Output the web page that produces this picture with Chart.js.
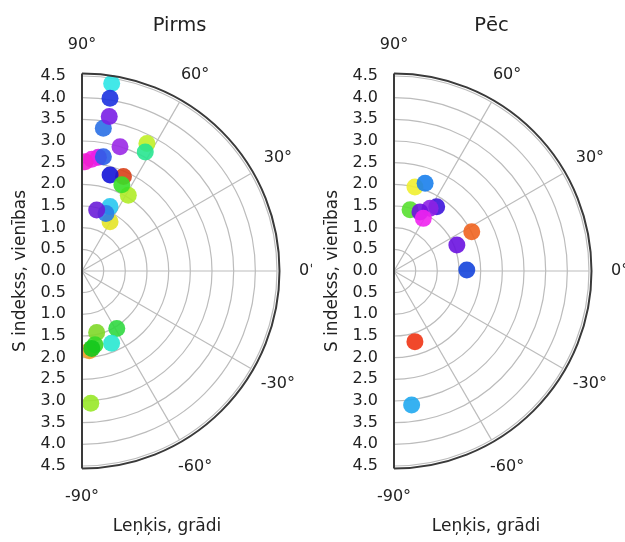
<!DOCTYPE html>
<html>
<head>
<meta charset="utf-8">
<script src="https://cdn.jsdelivr.net/npm/chart.js@4.4.1/dist/chart.umd.min.js"></script>
<style>
  body { margin: 0; background: #fff; }
  #wrap { position: relative; width: 625px; height: 542px; overflow: hidden; }
  canvas { position: absolute; top: 0; }
</style>
</head>
<body>
<div id="wrap">
  <canvas id="before" width="312" height="542" style="left:0"></canvas>
  <canvas id="after" width="313" height="542" style="left:312px"></canvas>
</div>
<script>
// values: angle in degrees, S index as radius
const beforeAngles = [81, 80.8, 81.5, 80, 73, 63, 62, 81.8, 85, 88.4, 79.4, 66.3, 73.7, 58.6, 65.2,
                      60.4, 66.5, 67.4, 76.5, -84.8, -58.8, -76.6, -67.7, -80, -82.8, -86.2];
const beforeRadii  = [4.38, 4.04, 3.33, 3.62, 3.0, 3.30, 3.11, 2.65, 2.59, 2.52, 2.68, 2.38, 2.31, 2.05, 2.19,
                      1.31, 1.62, 1.44, 1.45, 1.85, 1.55, 1.46, 1.80, 1.73, 1.80, 3.06];
const beforeColors = ['#2ee6e6', '#1c32e0', '#2a70e6', '#7a1ee6', '#9a28e6', '#c0f028', '#28e690',
                      '#d21ee8', '#ee1ee6', '#f020d0', '#2a5ee8', '#d84018', '#1414d8', '#b0ec28', '#38e028',
                      '#e4e428', '#28c8f0', '#2a80e8', '#6a1ed8', '#f0a028', '#30d840', '#80d828',
                      '#28e8d0', '#38d828', '#14c81e', '#98e828'];

const afterAngles = [76, 70.5, 75.3, 56.4, 60.1, 66.3, 60.9, 26.8, 22.5, 0.8, -73.5, -82.5];
const afterRadii  = [2.0, 2.15, 1.46, 1.78, 1.67, 1.49, 1.39, 2.01, 1.57, 1.68, 1.70, 3.12];
const afterColors = ['#f0f030', '#1a80ec', '#58e030', '#3c14dc', '#8e22e4', '#7012e0', '#f022f0',
                     '#f06420', '#6a12e0', '#1444dc', '#f03414', '#20a8f0'];

const angleTicks = [-90, -60, -30, 0, 30, 60, 90];
const radiusMax = 4.5;
const radiusStep = 0.5;

const fontFamily = '"DejaVu Sans", sans-serif';
const textColor = '#222222';

function toXY(angles, radii) {
  return angles.map((a, i) => {
    const t = a * Math.PI / 180;
    return {x: radii[i] * Math.cos(t), y: radii[i] * Math.sin(t)};
  });
}

const polarFrame = {
  id: 'polarFrame',
  beforeDatasetsDraw(chart) {
    const {ctx, scales: {x, y}} = chart;
    const cx = x.getPixelForValue(0);
    const cy = y.getPixelForValue(0);
    const R = x.getPixelForValue(radiusMax) - cx;
    ctx.save();
    ctx.strokeStyle = '#bcbcbc';
    ctx.lineWidth = 1.2;
    y.ticks.forEach(t => {
      if (t.value <= 0.001) return;
      ctx.beginPath();
      ctx.arc(cx, cy, x.getPixelForValue(t.value) - cx, -Math.PI / 2, Math.PI / 2);
      ctx.stroke();
    });
    angleTicks.forEach(a => {
      if (Math.abs(a) === 90) return;
      const t = a * Math.PI / 180;
      ctx.beginPath();
      ctx.moveTo(cx, cy);
      ctx.lineTo(cx + R * Math.cos(t), cy - R * Math.sin(t));
      ctx.stroke();
    });
    ctx.restore();
  },
  afterDatasetsDraw(chart, args, opts) {
    const {ctx, scales: {x, y}} = chart;
    const cx = x.getPixelForValue(0);
    const cy = y.getPixelForValue(0);
    const R = x.getPixelForValue(radiusMax) - cx;
    ctx.save();
    ctx.strokeStyle = '#3a3a3a';
    ctx.lineWidth = 2;
    ctx.beginPath();
    ctx.arc(cx, cy, R + 2.5, -Math.PI / 2, Math.PI / 2);
    ctx.stroke();
    ctx.beginPath();
    ctx.moveTo(cx, cy - R - 2.5);
    ctx.lineTo(cx, cy + R + 2.5);
    ctx.stroke();

    ctx.fillStyle = textColor;
    ctx.font = '16px ' + fontFamily;
    ctx.textAlign = 'center';
    ctx.textBaseline = 'middle';
    const RL = R * 1.16;
    angleTicks.forEach(a => {
      const t = a * Math.PI / 180;
      ctx.fillText(a + '°', cx + RL * Math.cos(t), cy - RL * Math.sin(t));
    });

    ctx.font = '17px ' + fontFamily;
    ctx.fillText(opts.xTitle, cx + opts.xTitleShift, cy + 256);
    ctx.restore();
  }
};

function makeChart(id, title, angles, radii, colors, xTitleShift) {
  const canvas = document.getElementById(id);
  return new Chart(canvas, {
    type: 'scatter',
    data: {
      datasets: [{
        data: toXY(angles, radii),
        backgroundColor: colors.map(c => c + 'e6'),
        borderWidth: 0,
        pointRadius: 8.5,
        pointHoverRadius: 8.5,
        clip: {left: 0, top: false, right: false, bottom: false}
      }]
    },
    options: {
      responsive: false,
      animation: false,
      events: [],
      layout: {padding: {left: 0, right: canvas.width - 277, top: 0, bottom: 76}},
      scales: {
        x: {display: false, min: 0, max: radiusMax},
        y: {
          min: -radiusMax,
          max: radiusMax,
          afterFit(scale) { scale.width = 82; },
          grid: {display: false, drawTicks: false},
          border: {display: false},
          ticks: {
            stepSize: radiusStep,
            autoSkip: false,
            padding: 16,
            color: textColor,
            font: {family: fontFamily, size: 16},
            callback: v => Math.abs(v).toFixed(1)
          },
          title: {
            display: true,
            text: 'S indekss, vienības',
            color: textColor,
            font: {family: fontFamily, size: 17},
            padding: {top: 10, bottom: 0}
          }
        }
      },
      plugins: {
        legend: {display: false},
        tooltip: {enabled: false},
        title: {
          display: true,
          text: title,
          fullSize: false,
          color: textColor,
          font: {family: fontFamily, size: 19.5, weight: 'normal'},
          padding: {top: 14, bottom: 38.6}
        },
        polarFrame: {xTitle: 'Leņķis, grādi', xTitleShift: xTitleShift}
      }
    },
    plugins: [polarFrame]
  });
}

makeChart('before', 'Pirms', beforeAngles, beforeRadii, beforeColors, 85);
makeChart('after', 'Pēc', afterAngles, afterRadii, afterColors, 92);
</script>
</body>
</html>
